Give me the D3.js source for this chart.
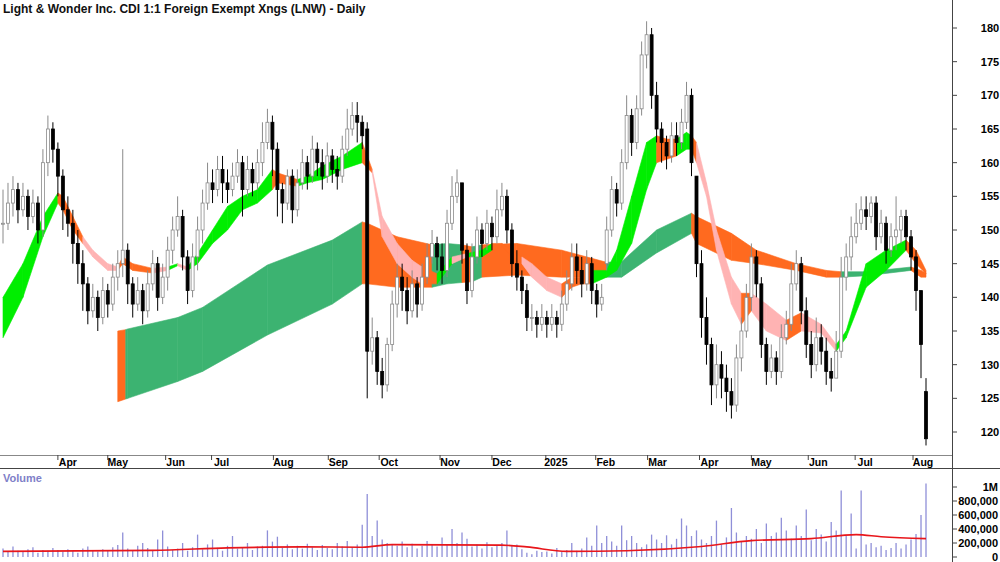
<!DOCTYPE html>
<html><head><meta charset="utf-8">
<script src="https://cdn.jsdelivr.net/npm/d3@7"></script>
<style>body{margin:0;background:#fff}text{font-family:"Liberation Sans",Arial,sans-serif}</style>
</head><body><svg id="c" width="1000" height="562"></svg>
<script>
const closes=[151,154,156,153,155,152,154,150,160,165,162,158,153,151,148,145,142,138,140,137,141,139,143,145,147,142,139,141,138,142,145,140,143,147,150,152,146,141,146,150,154,157,156,159,157,156,158,160,156,159,157,160,163,166,162,156,154,158,153,157,160,158,162,160,158,161,159,158,162,165,167,166,164,132,134,129,127,133,139,143,141,138,142,139,143,146,148,146,144,151,155,157,147,141,146,150,148,151,149,153,155,150,145,143,141,137,137,136,137,136,137,136,139,142,146,144,142,145,141,139,140,150,156,154,160,167,163,168,176,179,170,165,163,161,164,163,166,170,160,145,137,133,127,130,128,126,124,131,135,140,146,142,133,129,131,129,134,136,142,145,138,133,130,134,132,129,128,132,143,146,149,151,153,152,154,149,151,147,149,150,152,149,146,141,133,119];
const highs=[156,157,158,157,157,156,156,155,162,167,166,163,159,155,153,150,147,143,142,141,143,142,145,147,162,148,143,143,142,144,147,146,145,149,152,155,153,147,148,152,156,160,159,161,161,159,160,162,161,161,160,162,166,168,167,163,157,159,159,159,162,161,164,163,162,163,162,161,164,168,169,169,167,166,137,135,131,134,141,145,145,143,144,143,145,148,150,149,148,153,158,159,157,148,148,152,151,153,152,156,157,156,151,147,144,142,139,138,139,138,139,138,141,144,148,148,146,147,146,142,142,152,158,157,162,170,168,170,178,181,180,172,166,164,166,166,168,172,171,158,147,140,134,133,132,130,128,133,137,142,148,147,143,134,133,132,136,138,145,147,146,140,135,137,136,134,131,135,146,148,152,154,155,155,155,155,153,152,151,155,153,153,150,147,141,128];
const lows=[148,150,152,151,152,150,151,148,149,158,160,155,150,149,145,142,138,136,137,135,136,137,138,141,143,139,137,138,136,137,141,138,139,141,145,149,144,139,140,144,148,153,154,155,154,154,155,157,152,155,155,156,158,162,158,152,151,153,151,152,156,156,157,158,156,157,157,156,157,161,164,163,162,125,130,127,125,126,132,137,138,136,137,137,138,142,145,144,142,143,150,154,145,139,140,145,146,147,147,148,152,148,143,141,139,135,135,134,135,134,135,134,135,138,141,142,140,141,139,137,138,144,149,152,153,159,161,162,167,174,168,163,160,159,160,161,162,165,158,143,134,130,124,125,125,123,122,123,129,134,138,140,131,127,128,127,128,133,135,141,136,131,128,129,130,127,126,128,131,141,144,148,150,150,151,147,148,145,146,147,148,147,144,138,128,118];
const gapOpens={73:165,121:145,139:158,185:126};
const volumes=[120,80,150,90,70,110,140,60,100,90,130,100,80,110,90,60,120,150,100,80,110,90,140,170,350,120,100,160,200,130,90,250,380,150,100,120,200,90,140,320,110,180,250,130,90,160,300,120,140,200,100,150,160,380,220,290,130,180,110,160,120,190,140,100,170,130,110,200,150,230,140,180,460,900,300,520,250,200,180,160,220,140,190,120,160,230,180,150,280,170,400,200,350,260,150,180,120,210,140,160,200,380,160,180,110,60,40,90,70,80,50,130,70,100,200,90,120,280,160,450,200,300,220,160,450,240,300,200,140,180,320,250,200,310,180,260,550,450,300,380,250,200,300,520,180,280,700,350,220,300,260,400,200,480,300,350,560,380,260,450,300,680,240,400,320,220,500,380,950,300,620,120,950,180,200,140,160,100,130,200,120,180,250,330,600,1050].slice(0,186);
const volMA=[[0,81],[30,95],[45,130],[60,144],[72,140],[78,177],[100,170],[105,144],[113,81],[125,90],[140,150],[150,234],[162,263],[171,320],[176,290],[185,263]];
const shortBand=[[0,140,134,"G"],[4,145,140,"G"],[8,152,149,"G"],[11,155.5,154,"G"],[12,155,153,"O"],[14,152,150,"O"],[16,149,148,"O"],[18,147,146,"P"],[21,145,144,"P"],[23,144.5,144,"P"],[24,146,145,"O"],[26,145,144,"O"],[30,144.3,143.6,"O"],[33,144.5,144,"P"],[35,145,144.7,"G"],[37,144.5,144,"P"],[39,146.5,145,"G"],[42,150,148,"G"],[45,153.5,150,"G"],[48,155,153,"G"],[51,156,154,"G"],[54,159,156,"G"],[55,158.5,157,"O"],[59,157.5,156.5,"O"],[61,158,157,"G"],[64,159.5,157.5,"G"],[68,161,159,"G"],[72,163,160,"G"],[74,159,158.5,"O"],[76,152,149,"P"],[79,148,145,"P"],[82,145.5,143,"P"],[84,144.5,142,"P"],[87,143.5,142,"O"],[90,146,145,"G"],[93,146.5,146,"P"],[96,147,146,"G"],[98,148,147,"G"],[100,148,147.5,"O"],[102,147,146,"O"],[104,146,145,"O"],[106,145,143,"P"],[109,143,141,"P"],[112,142,140,"P"],[114,143,141.5,"O"],[116,143,142,"O"],[118,144,142,"O"],[121,144,143,"G"],[123,147,144,"G"],[126,155,148,"G"],[129,163,156,"G"],[131,164,160,"G"],[133,163.5,160.5,"O"],[135,163.5,161,"O"],[137,164.5,162,"G"],[138,164,162,"G"],[139,163,160,"O"],[141,157,155,"P"],[143,150,147,"P"],[146,143,139,"P"],[148,140.6,136,"P"],[150,140.6,138,"O"],[153,139,135,"P"],[157,136.6,133.6,"P"],[160,137.7,135,"O"],[164,136,134.7,"P"],[167,133,132,"P"],[169,135,134,"G"],[173,145,141.5,"G"],[177,147,144,"G"],[181,148.5,147,"G"],[183,147,145,"O"],[185,144,143.5,"O"]];
const longBand=[[23,135,124.5,"O"],[24.6,135.2,124.9,"O"],[25,135.3,125,"D"],[35,137,127.5,"D"],[40,138.5,129,"D"],[53,144.8,134.4,"D"],[66,148.5,139,"D"],[72,151.2,142,"D"],[73,151,142,"O"],[79,149,141.5,"O"],[86,147.8,141.5,"O"],[89,148,142,"D"],[92,147.8,142.2,"D"],[94,147.5,142.3,"O"],[96,147.8,143,"D"],[103,148,143.3,"O"],[112,147,143,"O"],[121,145.2,143,"O"],[124,145.3,143,"D"],[131,150,146.6,"D"],[138,152.5,149.5,"D"],[139,152,148,"O"],[146,149.5,145.5,"O"],[151,147,145,"O"],[159,145,144,"O"],[165,144,143,"O"],[168,143.8,143,"O"],[173,143.8,143.2,"D"],[182,144.5,144,"D"],[184,144,143,"O"],[185,143.6,143,"O"]];
const monthLabels=["Apr","May","Jun","Jul","Aug","Sep","Oct","Nov","Dec","2025","Feb","Mar","Apr","May","Jun","Jul","Aug"];
const monthIdx=[11,21,32.6,41.8,54.2,65.2,75.4,87.6,98,108.8,118.8,129.2,139.6,150,161.4,170.8,182.4];
const priceTicks=[120,125,130,135,140,145,150,155,160,165,170,175,180];
const volTicks=[0,200000,400000,600000,800000,1000000];
const volTickLabels=["0","200,000","400,000","600,000","800,000","1M"];

const svg=d3.select("#c");
const x=d3.scaleLinear().domain([0,185]).range([3,926]);
const y=d3.scaleLinear().domain([120,180]).range([432,28]);
const yv=d3.scaleLinear().domain([0,1000000]).range([557,487]);
const bandCol={G:"#00ee00",O:"#ff6a1f",P:"#ffb3b3",D:"#3cb371"};

function drawBand(b){
  for(let k=0;k<b.length-1;k++){
    const a=b[k],c=b[k+1];
    const area=d3.area().x(d=>x(d[0])).y0(d=>y(d[2])).y1(d=>y(d[1]));
    svg.append("path").attr("d",area([a,c])).attr("fill",bandCol[c[3]]).attr("stroke",bandCol[c[3]]).attr("stroke-width",0.6);
  }
}
drawBand(longBand);
drawBand(shortBand);

closes.forEach((c,i)=>{
  const o=gapOpens[i]!==undefined?gapOpens[i]:(i>0?closes[i-1]:c);
  const up=c>=o, cx=x(i);
  const col=up?"#8a8a8a":"#000";
  svg.append("line").attr("x1",cx).attr("x2",cx).attr("y1",y(highs[i])).attr("y2",y(lows[i])).attr("stroke",col).attr("stroke-width",1);
  const t=y(Math.max(o,c)),bt=y(Math.min(o,c));
  svg.append("rect").attr("x",cx-1.5).attr("y",t).attr("width",3).attr("height",Math.max(1,bt-t))
    .attr("fill",up?"#fff":"#000").attr("stroke",col).attr("stroke-width",0.8);
});

svg.append("line").attr("x1",952.5).attr("x2",952.5).attr("y1",0).attr("y2",562).attr("stroke","#444");
svg.append("line").attr("x1",0).attr("x2",952).attr("y1",455.5).attr("y2",455.5).attr("stroke","#888");
svg.append("line").attr("x1",0).attr("x2",1000).attr("y1",468.5).attr("y2",468.5).attr("stroke","#444");

priceTicks.forEach(p=>{
  svg.append("line").attr("x1",952).attr("x2",957).attr("y1",y(p)).attr("y2",y(p)).attr("stroke","#444");
  svg.append("text").attr("x",990).attr("y",y(p)+4).attr("text-anchor","middle").attr("font-size",11).attr("font-weight","bold").text(p);
});
monthIdx.forEach((m,k)=>{
  const tx=x(m);
  svg.append("line").attr("x1",tx).attr("x2",tx).attr("y1",455).attr("y2",460).attr("stroke","#444");
  svg.append("text").attr("x",tx+10).attr("y",466).attr("text-anchor","middle").attr("font-size",10.5).attr("font-weight","bold").text(monthLabels[k]);
});

volumes.forEach((v,i)=>{
  svg.append("line").attr("x1",x(i)).attr("x2",x(i)).attr("y1",yv(0)).attr("y2",yv(v*1000)).attr("stroke","#8f8fd8").attr("stroke-width",1.3);
});
svg.append("path").attr("d",d3.line().x(d=>x(d[0])).y(d=>yv(d[1]*1000)).curve(d3.curveMonotoneX)(volMA)).attr("fill","none").attr("stroke","#e8161b").attr("stroke-width",1.6);
volTicks.forEach((v,k)=>{
  svg.append("line").attr("x1",952).attr("x2",957).attr("y1",yv(v)).attr("y2",yv(v)).attr("stroke","#444");
  svg.append("text").attr("x",998).attr("y",yv(v)+4).attr("text-anchor","end").attr("font-size",11).attr("font-weight","bold").text(volTickLabels[k]);
});
svg.append("text").attr("x",3).attr("y",482).attr("font-size",11).attr("font-weight","bold").attr("fill","#8080c8").text("Volume");
svg.append("text").attr("x",3).attr("y",13).attr("font-size",12).attr("font-weight","bold").attr("fill","#111").text("Light & Wonder Inc. CDI 1:1 Foreign Exempt Xngs (LNW) - Daily");
</script></body></html>
